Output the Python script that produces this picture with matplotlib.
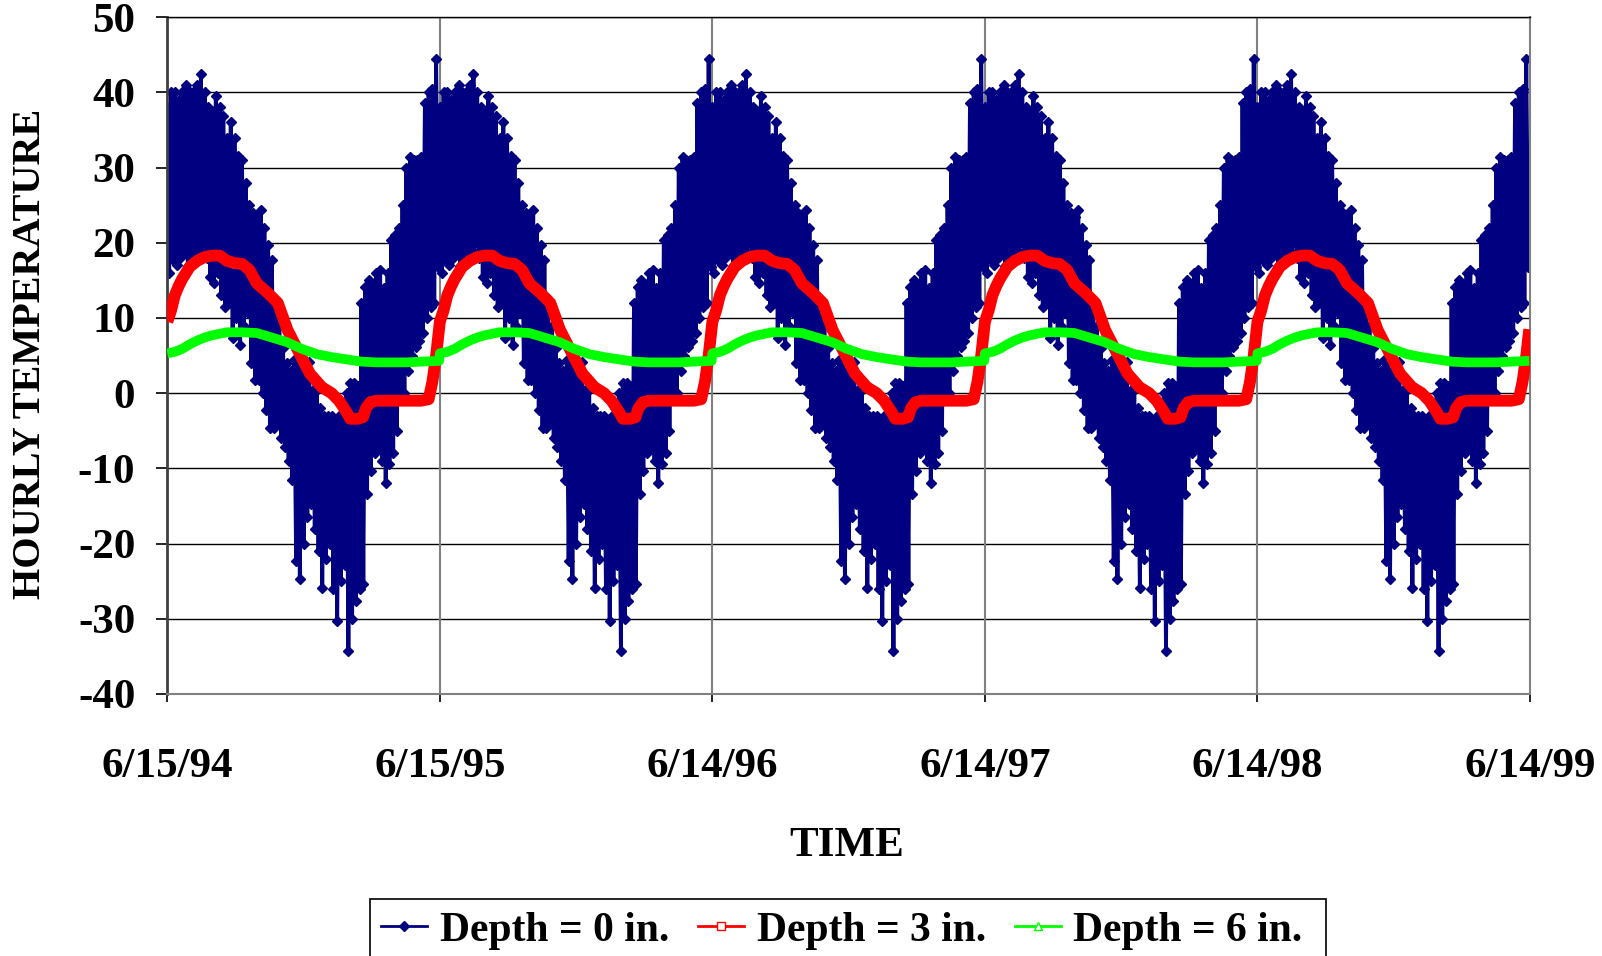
import matplotlib
matplotlib.use("Agg")
import matplotlib.pyplot as plt
import numpy as np
from matplotlib.lines import Line2D
from matplotlib.patches import Rectangle

# one year of readings (days after 6/15), the record repeats every year
years = 5
year_len = 365
tick_labels = ["6/15/94", "6/15/95", "6/14/96", "6/14/97", "6/14/98", "6/14/99"]

# surface (0 in.) - daily band read as high / low every 5 days
blue_day = list(range(0, 365, 5))
blue_hi = [38, 40, 40, 39, 40, 41, 40, 40, 41, 42.4,
           40, 38, 37.5, 39.5, 38, 36.8, 34, 36, 34, 31.5,
           31, 28, 25, 24, 23.4, 24.4, 22, 19.7, 17.7, 12,
           9, 6, 4, 3, 4.4, 4.4, 3, 4, 4.1, 0.4,
           0.4, -2, -3, -3, -3, -3.6, -3, -2, 0, 1.4,
           1.4, 1, 12, 14.1, 15, 14.5, 16, 16.4, 14, 16,
           20.4, 21, 22, 25, 30, 31.4, 31, 31, 31.4, 38.6,
           40, 40.4, 44.5]
blue_lo = [16, 17.7, 17, 18, 18.6, 16.9, 18, 18.6, 19, 20,
           18, 15.5, 14.6, 16, 13, 11.4, 12, 7.4, 10, 6.4,
           9, 10.6, 4, 1.7, 1.7, 0, -2.3, -4.6, -4.6, -4,
           -6, -7.2, -9, -11.6, -22.3, -24.7, -20, -16.5, -14.8, -18,
           -21, -25.9, -22, -20, -26, -30.3, -25, -22.8, -34.3, -30,
           -27.6, -26, -25.4, -13.4, -10.3, -8, -7.2, -9, -11.9, -9.4,
           -8, -5, 0, 0, 3, 5, 6.1, 7, 8, 10,
           11.4, 12, 16.8]

# 3 in. depth
red_day = [0, 5, 10, 15, 20, 30, 40, 50, 60, 70, 80, 90, 100, 110, 120,
           135, 148, 161, 175, 191, 207, 220, 230, 240, 245, 255, 262, 266,
           272, 280, 300, 320, 340, 350, 355, 360, 364]
red_val = [9.5, 11, 13, 14.2, 15.2, 16.8, 17.6, 18.1, 18.3, 18.3, 17.6, 17.3,
           17.2, 16.4, 14.6, 13.3, 12, 8.4, 5.7, 2.6, 0.8, 0, -1, -2.5, -3.4,
           -3.4, -3.2, -2, -1.2, -1, -1, -1, -1, -0.8, 1.5, 5, 8.5]

# 6 in. depth
green_day = [0, 10, 20, 30, 40, 50, 60, 80, 100, 120, 140, 160, 180, 200,
             220, 240, 260, 280, 300, 320, 340, 364]
green_val = [5.3, 5.5, 5.9, 6.5, 7.0, 7.4, 7.7, 8.1, 8.1, 8.0, 7.4, 6.8, 5.9,
             5.2, 4.8, 4.5, 4.2, 4.1, 4.1, 4.1, 4.2, 4.3]


def tile(days, vals):
    d = np.concatenate([np.array(days) + k * year_len for k in range(years)])
    v = np.tile(vals, years)
    return d, v


# zigzag hi/lo for the hourly surface record
bd = np.array(blue_day, dtype=float)
zz_d = np.ravel(np.column_stack([bd, bd + 2.5]))
zz_v = np.ravel(np.column_stack([blue_hi, blue_lo]))
b_d, b_v = tile(zz_d, zz_v)
r_d, r_v = tile(red_day, red_val)
g_d, g_v = tile(green_day, green_val)

navy = "#000080"
red = "#FF0000"
green = "#00FF00"

plt.rcParams["font.family"] = ["Liberation Serif", "DejaVu Serif"]
plt.rcParams["font.weight"] = "bold"
plt.rcParams["axes.unicode_minus"] = False

fig = plt.figure(figsize=(16.02, 9.56), dpi=100)
ax = fig.add_axes([167.3 / 1602, 1 - 694 / 956, (1530 - 167.3) / 1602, (694 - 17.2) / 956])

# gridlines
for y in range(-30, 51, 10):
    ax.axhline(y, color="black", lw=1.0, zorder=1)
for k in range(1, years):
    ax.axvline(k * year_len, color="#808080", lw=1.5, zorder=1)

ax.plot(b_d, b_v, color=navy, lw=2.8, marker="D", ms=5, mec=navy, mfc=navy, zorder=2)
ax.plot(r_d, r_v, color=red, lw=8.5, solid_capstyle="butt", zorder=3)
ax.plot(g_d, g_v, color=green, lw=7, solid_capstyle="butt", zorder=4)

ax.set_xlim(0, years * year_len)
ax.set_ylim(-40, 50)
ax.set_xticks([k * year_len for k in range(years + 1)])
ax.set_xticklabels(tick_labels)
ax.set_yticks(range(-40, 51, 10))
ax.tick_params(axis="y", direction="out", length=8, width=1.2, pad=15, labelsize=31, colors="black")
ax.tick_params(axis="x", direction="out", length=6, width=1.2, pad=33, labelsize=31, colors="black")
for lab in ax.get_xticklabels() + ax.get_yticklabels():
    lab.set_fontweight("bold")

ax.spines["left"].set_color("#404040")
ax.spines["left"].set_linewidth(2)
ax.spines["bottom"].set_color("#808080")
ax.spines["bottom"].set_linewidth(1.5)
ax.spines["right"].set_color("#808080")
ax.spines["right"].set_linewidth(1.5)
ax.spines["top"].set_color("black")
ax.spines["top"].set_linewidth(1.0)

fig.text(31 / 1602, 1 - 354 / 956, "HOURLY TEMPERATURE", rotation=90, ha="center", va="center",
         fontsize=29, fontweight="bold")
fig.text(847 / 1602, 1 - 846 / 956, "TIME", ha="center", va="center", fontsize=31, fontweight="bold")

handles = [
    Line2D([], [], color=navy, lw=2, marker="D", ms=5, mfc=navy, mec=navy),
    Line2D([], [], color=red, lw=2, marker="s", ms=6, mfc="white", mec=red),
    Line2D([], [], color=green, lw=2, marker="^", ms=6, mfc="white", mec=green),
]
fig.legend(handles, ["Depth = 0 in.", "Depth = 3 in.", "Depth = 6 in."],
           loc="center", bbox_to_anchor=(842 / 1602, 1 - 931 / 956),
           bbox_transform=fig.transFigure, borderaxespad=0, borderpad=0,
           ncol=3, frameon=False,
           handlelength=1.1, handletextpad=0.3, columnspacing=0.7,
           prop={"weight": "bold", "size": 30})

# legend box runs off the bottom edge like the original
fig.add_artist(Rectangle((370 / 1602, -0.05), (1326 - 370) / 1602, 0.05 + 1 - 899 / 956,
                         transform=fig.transFigure, fill=False, edgecolor="black", lw=1.2))

fig.savefig("out.png", dpi=100, facecolor="white")
